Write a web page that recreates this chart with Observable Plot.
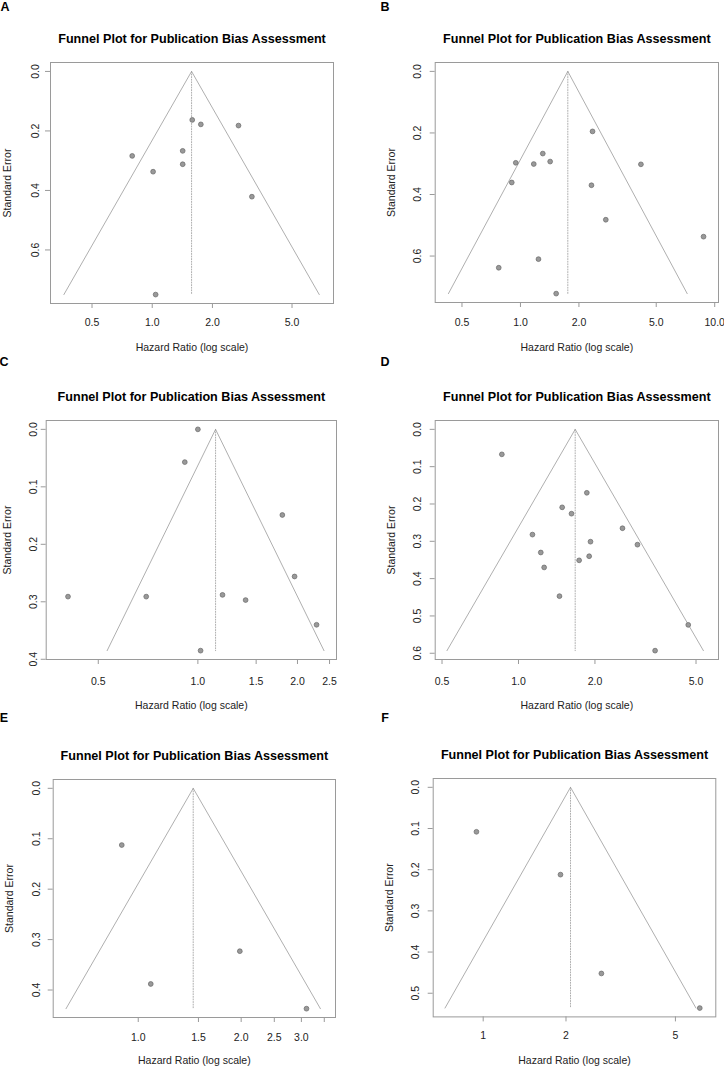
<!DOCTYPE html>
<html>
<head>
<meta charset="utf-8">
<script src="https://cdn.jsdelivr.net/npm/d3@7"></script>
<script src="https://cdn.jsdelivr.net/npm/@observablehq/plot@0.6"></script>
<style>
  body { margin: 0; background: #fff; }
  #page { position: relative; width: 724px; height: 1068px; overflow: hidden; background: #fff;
          font-family: "Liberation Sans", Arial, sans-serif; }
  .panel-tag { position: absolute; font-weight: bold; font-size: 12.5px; line-height: 1;
               transform: translate(-50%, -50%); color: #000; }
  .panel-svg { position: absolute; }
</style>
</head>
<body>
<div id="page"></div>
<script>
// Study-level hazard ratios and standard errors, one pair of arrays per panel
const panelLetters = ["A", "B", "C", "D", "E", "F"];

const hrA = [1.585, 1.75, 2.70, 0.794, 1.42, 1.42, 1.01, 3.15, 1.04];
const seA = [0.163, 0.178, 0.182, 0.284, 0.267, 0.312, 0.337, 0.421, 0.750];

const hrB = [2.35, 0.946, 1.171, 1.303, 1.422, 0.902, 4.17, 2.32, 2.75, 8.76, 1.238, 0.773, 1.527];
const seB = [0.195, 0.297, 0.301, 0.267, 0.293, 0.361, 0.302, 0.370, 0.482, 0.537, 0.610, 0.638, 0.722];

const hrC = [1.0, 0.913, 1.80, 1.96, 0.405, 0.698, 1.187, 1.394, 2.284, 1.019];
const seC = [0.0, 0.057, 0.149, 0.256, 0.291, 0.291, 0.288, 0.297, 0.340, 0.385];

const hrD = [0.860, 1.858, 1.486, 1.617, 1.135, 2.567, 1.921, 2.94, 1.224, 1.898, 1.733, 1.262, 1.450, 4.66, 3.45];
const seD = [0.067, 0.170, 0.209, 0.226, 0.282, 0.265, 0.301, 0.309, 0.330, 0.340, 0.351, 0.370, 0.447, 0.524, 0.593];

const hrE = [0.895, 1.982, 1.088, 3.105];
const seE = [0.1125, 0.323, 0.388, 0.437];

const hrF = [0.945, 1.91, 2.69, 6.13];
const seF = [0.108, 0.212, 0.452, 0.536];

const hrSets = [hrA, hrB, hrC, hrD, hrE, hrF];
const seSets = [seA, seB, seC, seD, seE, seF];

// Pooled hazard ratio (funnel apex) per panel
const pooledHR = [1.573, 1.753, 1.131, 1.672, 1.448, 2.077];

// Horizontal axis limits and ticks (log scale)
const xLimits = [[0.310, 8.06], [0.364, 10.46], [0.348, 2.624], [0.470, 6.13], [0.564, 3.775], [0.658, 7.01]];
const xTicks = [
  [0.5, 1, 2, 5],
  [0.5, 1, 2, 5, 10],
  [0.5, 1, 1.5, 2, 2.5],
  [0.5, 1, 2, 5],
  [1, 1.5, 2, 2.5, 3, 3.5],
  [1, 2, 5]
];
const xTickLabels = [
  ["0.5", "1.0", "2.0", "5.0"],
  ["0.5", "1.0", "2.0", "5.0", "10.0"],
  ["0.5", "1.0", "1.5", "2.0", "2.5"],
  ["0.5", "1.0", "2.0", "5.0"],
  ["1.0", "1.5", "2.0", "2.5", "3.0", ""],
  ["1", "2", "5"]
];
const yTicks = [
  [0, 0.2, 0.4, 0.6],
  [0, 0.2, 0.4, 0.6],
  [0, 0.1, 0.2, 0.3, 0.4],
  [0, 0.1, 0.2, 0.3, 0.4, 0.5, 0.6],
  [0, 0.1, 0.2, 0.3, 0.4],
  [0, 0.1, 0.2, 0.3, 0.4, 0.5]
];

const titleText = "Funnel Plot for Publication Bias Assessment";
const xTitle = "Hazard Ratio (log scale)";
const yTitle = "Standard Error";

// Page layout: plot frame edges and text offsets for each panel
const layout = [
  {col: 0,   left: 50,    right: 333,   top: 62,    bottom: 303,    yTickC: 18.3, xTickC: 18.7, xTitleDy: 44,   yTitleDx: 42.7, tag: [5, 7]},
  {col: 362, left: 434.7, right: 718,   top: 62,    bottom: 302,    yTickC: 21,   xTickC: 19.7, xTitleDy: 45,   yTitleDx: 43.4, tag: [385, 7]},
  {col: 0,   left: 45.7,  right: 336,   top: 420.3, bottom: 659.3,  yTickC: 15.7, xTickC: 21.4, xTitleDy: 45.7, yTitleDx: 38.4, tag: [4, 362]},
  {col: 362, left: 434.7, right: 718,   top: 420.3, bottom: 659.3,  yTickC: 21,   xTickC: 21.4, xTitleDy: 45.7, yTitleDx: 43.4, tag: [385, 362]},
  {col: 0,   left: 52.7,  right: 335,   top: 779.3, bottom: 1017.3, yTickC: 20.4, xTickC: 19.4, xTitleDy: 42.7, yTitleDx: 43.4, tag: [4, 718]},
  {col: 362, left: 432.7, right: 715.3, top: 778.3, bottom: 1016.7, yTickC: 20.7, xTickC: 18.3, xTitleDy: 43.3, yTitleDx: 43.4, tag: [385, 718]}
];

const FONT = "'Liberation Sans', Arial, sans-serif";
const TICK = 5;
const FS = 10.5;
const GREY = "#9a9a9a";
const page = document.getElementById("page");

panelLetters.forEach((letter, i) => {
  const L = layout[i];
  const hr = hrSets[i], se = seSets[i];
  const studies = hr.map((h, j) => ({hr: h, se: se[j]}));
  const seMax = d3.max(se);
  const c = pooledHR[i];
  // 95% pseudo-confidence funnel around the pooled estimate
  const funnel = [
    {hr: Math.exp(Math.log(c) - 1.96 * seMax), se: seMax},
    {hr: c, se: 0},
    {hr: Math.exp(Math.log(c) + 1.96 * seMax), se: seMax}
  ];
  const centre = [{hr: c, se: 0}, {hr: c, se: seMax}];

  const marginTop = 62, marginBottom = 50;
  const frameH = L.bottom - L.top;
  const width = 362;
  const height = marginTop + frameH + marginBottom;
  const labelMap = new Map(xTicks[i].map((t, k) => [t, xTickLabels[i][k]]));

  const chart = Plot.plot({
    width, height,
    marginTop, marginBottom,
    marginLeft: L.left - L.col,
    marginRight: L.col + width - L.right,
    style: {fontFamily: FONT, fontSize: FS + "px", color: "#222", background: "transparent", overflow: "visible"},
    x: {type: "log", domain: xLimits[i]},
    y: {domain: [seMax * 1.04, -seMax * 0.04]},
    marks: [
      Plot.frame({stroke: GREY, strokeWidth: 1}),
      Plot.line(funnel, {x: "hr", y: "se", stroke: GREY, strokeWidth: 0.8}),
      Plot.line(centre, {x: "hr", y: "se", stroke: GREY, strokeWidth: 0.8, strokeDasharray: "1,1.6"}),
      Plot.dot(studies, {x: "hr", y: "se", r: 2.4, fill: "#999", stroke: "#666", strokeWidth: 0.7}),
      Plot.axisX({
        ticks: xTicks[i], tickFormat: (d) => labelMap.get(d) ?? "",
        tickSize: TICK, tickPadding: L.xTickC - TICK - 3.8,
        stroke: GREY, fill: "#222", label: null
      }),
      Plot.axisY({
        ticks: yTicks[i], tickFormat: (d) => d.toFixed(1),
        tickSize: TICK, tickRotate: -90, tickPadding: L.yTickC - TICK - 6.8,
        stroke: GREY, fill: "#222", label: null
      }),
      Plot.text([titleText], {
        frameAnchor: "top", dy: -23.5, lineAnchor: "middle",
        fontWeight: "bold", fontSize: 12.6, fill: "#000"
      }),
      Plot.text([xTitle], {
        frameAnchor: "bottom", dy: L.xTitleDy, lineAnchor: "middle", fill: "#222"
      }),
      Plot.text([yTitle], {
        frameAnchor: "left", dx: -L.yTitleDx, rotate: -90, lineAnchor: "middle",
        textAnchor: "middle", fill: "#222"
      })
    ]
  });
  chart.classList.add("panel-svg");
  chart.style.left = L.col + "px";
  chart.style.top = (L.top - marginTop) + "px";
  page.appendChild(chart);

  const tag = document.createElement("div");
  tag.className = "panel-tag";
  tag.textContent = letter;
  tag.style.left = L.tag[0] + "px";
  tag.style.top = L.tag[1] + "px";
  page.appendChild(tag);
});
</script>
</body>
</html>
